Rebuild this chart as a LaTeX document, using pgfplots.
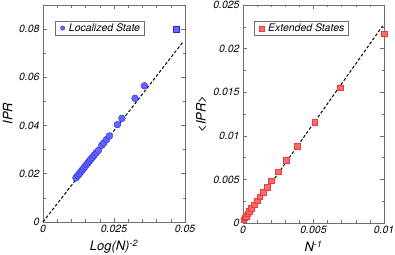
\documentclass[border=0pt]{standalone}
\usepackage{fontspec}
\setmainfont{TeX Gyre Heros}
\usepackage{pgfplots}
\pgfplotsset{compat=1.18}
\definecolor{bfill}{RGB}{100,100,255}
\definecolor{bdraw}{RGB}{40,40,225}
\definecolor{rfill}{RGB}{255,105,105}
\definecolor{rdraw}{RGB}{235,60,60}
\definecolor{axgray}{RGB}{110,110,110}
\pgfplotsset{
  myax/.style={
    scale only axis,
    anchor=south west,
    scaled ticks=false,
    axis line style={axgray, line width=0.8pt},
    every tick/.style={axgray, line width=0.6pt},
    major tick length=4bp,
    minor tick length=2.5bp,
    tick align=inside,
    /pgf/number format/assume math mode=true,
    tick label style={font=\fontsize{10.5}{12}\selectfont\itshape},
    label style={font=\fontsize{13}{15}\selectfont\itshape},
    legend style={draw=axgray, line width=0.6pt, font=\fontsize{10.5}{12}\selectfont\itshape,
      inner xsep=2pt, inner ysep=0.5pt, legend cell align=left},
    legend image code/.code={\path (0bp,0) (9bp,0); \draw[##1] plot coordinates {(5bp,0)};},
  }
}
\begin{document}
\begin{tikzpicture}[x=1bp,y=1bp]
\path[use as bounding box] (0,0) rectangle (395,255);
\begin{axis}[myax,
  at={(43bp,33bp)}, width=142bp, height=217bp,
  xmin=0, xmax=0.05, ymin=0, ymax=0.09,
  xtick={0,0.025,0.05}, xticklabels={0,0.025,0.05},
  minor xtick={0.005,0.01,0.015,0.02,0.03,0.035,0.04,0.045},
  ytick={0,0.02,0.04,0.06,0.08}, yticklabels={0,0.02,0.04,0.06,0.08},
  minor ytick={0.01,0.03,0.05,0.07,0.09},
  xlabel={Log(N)\textsuperscript{-2}}, ylabel={IPR},
  legend style={at={(0.085,0.928)}, anchor=north west},
  clip=false]
\addplot[black, dashed, line width=1pt, dash pattern=on 3pt off 2pt, forget plot] coordinates {(0,0) (0.0495,0.0750)};
\addplot[only marks, mark=*, mark size=3.4bp, mark options={fill=bfill, draw=bdraw, line width=0.4pt}, forget plot] coordinates {
(0.0116,0.0183)(0.0122,0.0192)(0.0128,0.0200)(0.0133,0.0208)(0.0138,0.0215)
(0.0143,0.0222)(0.0148,0.0230)(0.0153,0.0238)(0.0158,0.0245)(0.0163,0.0252)
(0.0168,0.0260)(0.0174,0.0268)(0.0180,0.0277)(0.0187,0.0287)(0.0195,0.0297)
(0.0207,0.0318)(0.0214,0.0328)(0.0224,0.0342)(0.0234,0.0357)(0.0262,0.0404)
(0.0278,0.0430)(0.0324,0.0513)(0.0357,0.0565)};
\addplot[only marks, mark=square*, mark size=2.8bp, mark options={fill=bfill, draw=bdraw, line width=0.4pt}, forget plot] coordinates {(0.0468,0.0800)};
\addlegendimage{only marks, mark=*, mark size=2.2bp, mark options={fill=bfill, draw=bdraw, line width=0.4pt}}
\addlegendentry{Localized State}
\end{axis}
\begin{axis}[myax,
  at={(243bp,32bp)}, width=141bp, height=218bp,
  xmin=0, xmax=0.01, ymin=0, ymax=0.025,
  xtick={0,0.005,0.01}, xticklabels={0,0.005,0.01},
  minor xtick={0.001,0.002,0.003,0.004,0.006,0.007,0.008,0.009},
  ytick={0,0.005,0.01,0.015,0.02,0.025}, yticklabels={0,0.005,0.01,0.015,0.02,0.025},
  minor ytick={0.0025,0.0075,0.0125,0.0175,0.0225},
  xlabel={N\textsuperscript{-1}}, ylabel={<IPR>},
  legend style={at={(0.08,0.926)}, anchor=north west},
  clip=false]
\addplot[black, dashed, line width=1pt, dash pattern=on 3pt off 2pt, forget plot] coordinates {(0,0) (0.0099,0.0226)};
\addplot[only marks, mark=square*, mark size=2.8bp, mark options={fill=rfill, draw=rdraw, line width=0.4pt}, forget plot] coordinates {
(0.00005,0.0004)(0.00012,0.0006)(0.00022,0.0008)(0.00033,0.00105)(0.00043,0.00132)
(0.00059,0.0017)(0.00078,0.00208)(0.00099,0.00254)(0.00118,0.00303)(0.00142,0.00353)
(0.0017,0.0041)(0.00201,0.00486)(0.00248,0.00588)(0.00307,0.00721)(0.00385,0.0088)
(0.00508,0.01157)(0.00688,0.0155)(0.0100,0.0217)};
\addlegendimage{only marks, mark=square*, mark size=2.2bp, mark options={fill=rfill, draw=rdraw, line width=0.4pt}}
\addlegendentry{Extended States}
\end{axis}
\end{tikzpicture}
\end{document}
